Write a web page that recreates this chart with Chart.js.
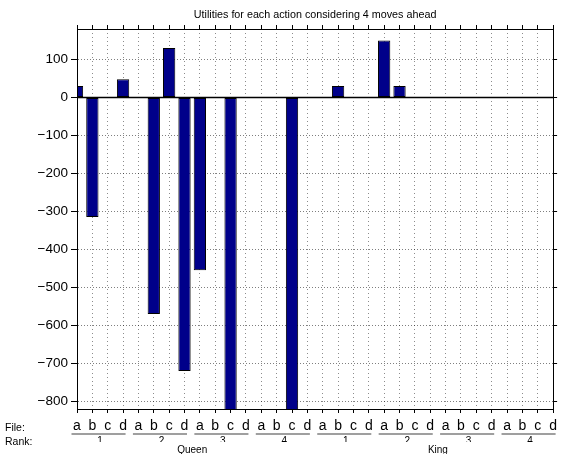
<!DOCTYPE html>
<html><head><meta charset="utf-8">
<style>html,body{margin:0;padding:0;background:#fff;} canvas{display:block;}</style>
<script src="https://cdn.jsdelivr.net/npm/chart.js"></script>
</head><body>
<canvas id="c" width="563" height="454"></canvas>
<script>
// ---- data ----
const titleText = 'Utilities for each action considering 4 moves ahead';
const pieces = ['Queen', 'King'];
const ranks = ['1', '2', '3', '4'];
const files = ['a', 'b', 'c', 'd'];
const rowCaptions = ['File:', 'Rank:'];
// utilities in order rank 1..4, file a..d
const queenUtilities = [30, -315, 0, 48, 0, -570, 130, -720, -455, 0, -900, 0, 0, 0, -900, 0];
const kingUtilities  = [0, 30, 0, 0, 150, 30, 0, 0, 0, 0, 0, 0, 0, 0, 0, 0];
const yTickValues = [-800, -700, -600, -500, -400, -300, -200, -100, 0, 100];
const yMin = -820, yMax = 180;
const baseValue = 0;

// ---- derived ----
const actionLabels = [];
const rankTickCenters = [], rankTickLabels = [];
const pieceTickCenters = [];
pieces.forEach((p, pi) => {
  ranks.forEach((r, ri) => {
    const start = actionLabels.length;
    files.forEach(f => actionLabels.push(f));
    rankTickCenters.push(start + (files.length - 1) / 2);
    rankTickLabels.push(r);
  });
  pieceTickCenters.push(pi * ranks.length * files.length + (ranks.length * files.length - 1) / 2);
});
const utilities = queenUtilities.concat(kingUtilities);
const lastIndex = actionLabels.length - 1;

const FONT = '"Liberation Sans", Arial, Helvetica, sans-serif';
Chart.defaults.font.family = FONT;
Chart.defaults.color = '#000';

const fmt = v => (v < 0 ? '\u2212' + Math.abs(v) : String(v));

const baselinePlugin = {
  id: 'baseline',
  afterDatasetsDraw(chart) {
    const {ctx, chartArea: a, scales: {y}} = chart;
    const py = y.getPixelForValue(baseValue);
    ctx.save();
    ctx.strokeStyle = '#000';
    ctx.lineWidth = 1.5;
    ctx.beginPath();
    ctx.moveTo(a.left, py);
    ctx.lineTo(a.right, py);
    ctx.stroke();
    ctx.restore();
  }
};

const groupPlugin = {
  id: 'groups',
  afterDraw(chart) {
    const {ctx, scales: {x, xRank}} = chart;
    ctx.save();
    ctx.fillStyle = '#000';
    ctx.font = '10.5px ' + FONT;
    ctx.textAlign = 'left';
    ctx.textBaseline = 'alphabetic';
    ctx.fillText(rowCaptions[0], 5, x.top + 22);
    ctx.fillText(rowCaptions[1], 5, xRank.top + 11);
    ctx.strokeStyle = '#7f7f7f';
    ctx.lineWidth = 1.5;
    const ly = xRank.top;
    for (let g = 0; g < rankTickCenters.length; g++) {
      const s = g * files.length, e = s + files.length - 1;
      const x1 = x.getPixelForValue(s) - 5.5;
      const x2 = x.getPixelForValue(e) + 2.5;
      ctx.beginPath();
      ctx.moveTo(x1, ly);
      ctx.lineTo(x2, ly);
      ctx.stroke();
    }
    ctx.restore();
  }
};

new Chart(document.getElementById('c'), {
  type: 'bar',
  data: {
    labels: actionLabels,
    datasets: [{
      data: utilities,
      backgroundColor: '#00008a',
      borderColor: '#000',
      borderWidth: 1,
      borderSkipped: false,
      categoryPercentage: 1,
      barPercentage: 0.8,
      clip: 0
    }]
  },
  options: {
    responsive: false,
    animation: false,
    devicePixelRatio: 1,
    layout: {padding: 0},
    plugins: {
      legend: {display: false},
      tooltip: {enabled: false},
      title: {
        display: true, text: titleText, fullSize: false, color: '#000',
        font: {size: 10.75, weight: 'normal', lineHeight: 1.2},
        padding: {top: 8.8, bottom: 3.3}
      }
    },
    scales: {
      x: {
        type: 'category', position: 'bottom', offset: false, weight: 0,
        grid: {offset: false, color: 'rgba(0,0,0,0.45)', lineWidth: 1, tickLength: 4, tickColor: '#000', tickWidth: 1},
        border: {display: true, color: '#000', width: 1, dash: [1, 3], z: 1},
        ticks: {autoSkip: false, maxRotation: 0, minRotation: 0, padding: 6, font: {size: 14, lineHeight: 1}},
        afterFit: s => { s.height = 25; }
      },
      xRank: {
        type: 'linear', position: 'bottom', min: 0, max: lastIndex, weight: 1, offset: false,
        grid: {display: false, drawTicks: false, offset: false},
        border: {display: false},
        ticks: {autoSkip: false, maxRotation: 0, padding: 2.5, font: {size: 10, lineHeight: 1},
                callback: (v, i) => rankTickLabels[i]},
        afterBuildTicks: s => { s.ticks = rankTickCenters.map(v => ({value: v})); },
        afterFit: s => { s.height = 8; }
      },
      xPiece: {
        type: 'linear', position: 'bottom', min: 0, max: lastIndex, weight: 2, offset: false,
        grid: {display: false, drawTicks: false, offset: false},
        border: {display: false},
        ticks: {autoSkip: false, maxRotation: 0, padding: 3.5, font: {size: 10, lineHeight: 1},
                callback: (v, i) => pieces[i]},
        afterBuildTicks: s => { s.ticks = pieceTickCenters.map(v => ({value: v})); },
        afterFit: s => { s.height = 12; }
      },
      xTop: {
        type: 'linear', position: 'top', min: 0, max: lastIndex, weight: 0, offset: false,
        grid: {drawOnChartArea: false, tickLength: 4, tickColor: '#000', offset: false},
        border: {color: '#000', z: 1},
        ticks: {display: false},
        afterBuildTicks: s => { s.ticks = actionLabels.map((_, i) => ({value: i})); },
        afterFit: s => { s.height = 4; }
      },
      y: {
        type: 'linear', position: 'left', min: yMin, max: yMax,
        grid: {color: 'rgba(0,0,0,0.5)', lineWidth: 1, tickLength: 6, tickColor: '#000'},
        border: {color: '#000', width: 1, dash: [1, 2], z: 1},
        ticks: {padding: 3, font: {size: 13.5}, callback: v => fmt(v)},
        afterBuildTicks: s => { s.ticks = yTickValues.map(v => ({value: v})); },
        afterFit: s => { s.width = 77; }
      },
      yRight: {
        type: 'linear', position: 'right', min: yMin, max: yMax,
        grid: {drawOnChartArea: false, tickLength: 4, tickColor: '#000'},
        border: {color: '#000', z: 1},
        ticks: {display: false},
        afterBuildTicks: s => { s.ticks = yTickValues.map(v => ({value: v})); },
        afterFit: s => { s.width = 4; }
      }
    }
  },
  plugins: [baselinePlugin, groupPlugin]
});
</script>
</body></html>
